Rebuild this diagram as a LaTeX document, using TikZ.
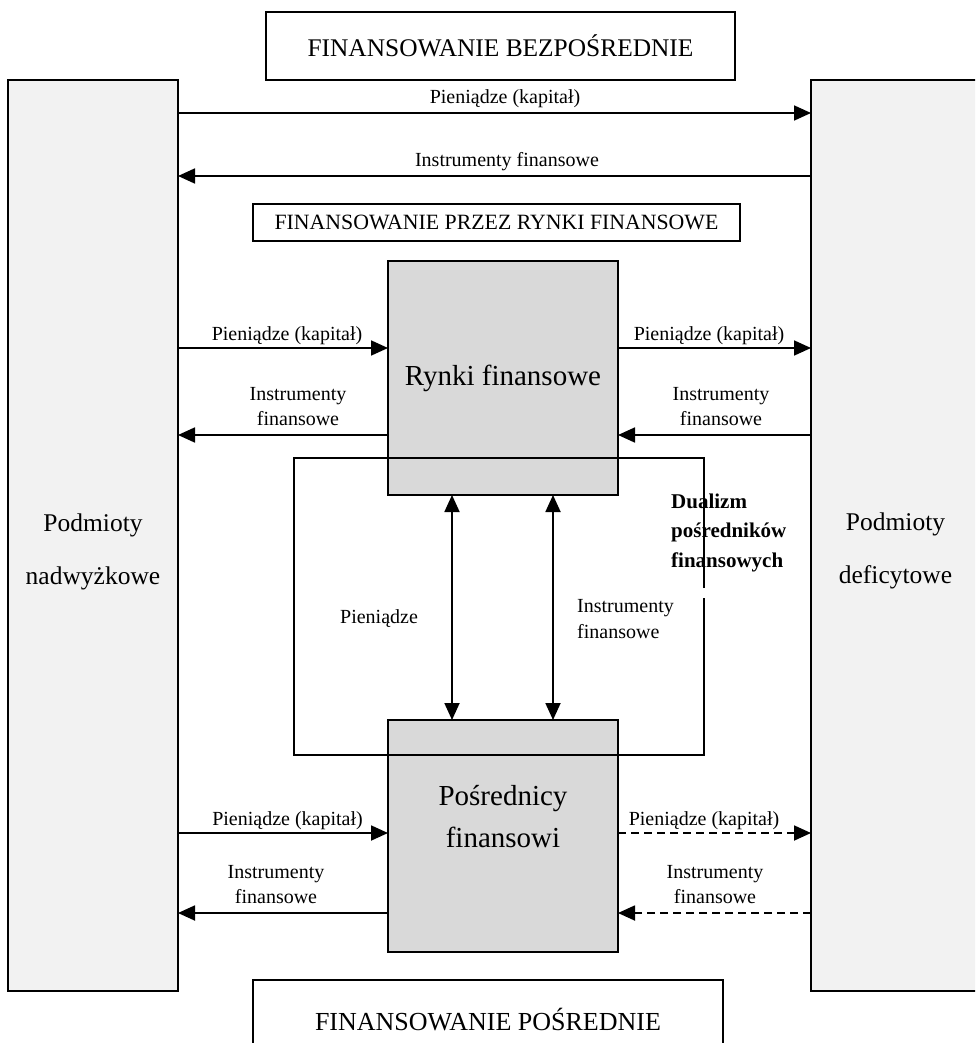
\documentclass[tikz,border=0pt]{standalone}
\usepackage{fontspec}
\setmainfont{Liberation Serif}
\usetikzlibrary{arrows.meta}
\definecolor{lightg}{HTML}{F2F2F2}
\definecolor{midg}{HTML}{D9D9D9}
\begin{document}
\begin{tikzpicture}[x=1pt,y=-1pt,
  box/.style={draw=black, line width=1.2pt, inner sep=0pt, outer sep=0pt},
  arr/.style={line width=1.8pt, -{Triangle[length=17pt,width=15pt]}},
  darr/.style={arr, dash pattern=on 8pt off 5pt},
  dbl/.style={line width=1.8pt, {Triangle[length=17pt,width=15pt]}-{Triangle[length=17pt,width=15pt]}},
  lbl/.style={font=\fontsize{20}{24}\selectfont, anchor=base, inner sep=0pt},
  big/.style={font=\fontsize{25.5}{30}\selectfont, anchor=base, inner sep=0pt},
  mid/.style={font=\fontsize{29}{34}\selectfont, anchor=base, inner sep=0pt},
  bld/.style={font=\bfseries\fontsize{21}{25}\selectfont, anchor=base west, inner sep=0pt}]
\useasboundingbox (0,0) rectangle (975,1043);
\clip (0,0) rectangle (975,1043);
\fill[white] (0,0) rectangle (975,1043);

% side boxes
\node[box, fill=lightg, minimum width=170pt, minimum height=911pt] (lbox) at (93,535.5) {};
\node[box, fill=lightg, minimum width=184pt, minimum height=911pt] (rbox) at (903,535.5) {};

% headings
\node[box, minimum width=469pt, minimum height=68pt, font=\fontsize{25.4}{30}\selectfont] (hdir) at (500.5,46) {FINANSOWANIE BEZPOŚREDNIE};
\node[box, minimum width=487pt, minimum height=37pt, font=\fontsize{21.8}{26}\selectfont] (hmar) at (496.5,222.5) {FINANSOWANIE PRZEZ RYNKI FINANSOWE};
\node[box, minimum width=470pt, minimum height=80pt, font=\fontsize{26}{30}\selectfont] (hind) at (488,1020) {FINANSOWANIE POŚREDNIE};

% central boxes
\node[box, fill=midg, minimum width=230pt, minimum height=234pt, font=\fontsize{29}{34}\selectfont] (rynki) at (503,378) {Rynki finansowe};
\node[box, fill=midg, minimum width=230pt, minimum height=232pt] (posr) at (503,836) {};
\node[mid] (p1) at (503,805) {Pośrednicy};
\node[mid] (p2) at (503,847) {finansowi};

% side texts
\node[big] (pn1) at (93,531) {Podmioty};
\node[big] (pn2) at (93,584) {nadwyżkowe};
\node[big] (pd1) at (895.5,530) {Podmioty};
\node[big] (pd2) at (895.5,583) {deficytowe};

% direct financing
\draw[arr] (lbox.east |- 0,113) -- (rbox.west |- 0,113);
\draw[arr] (rbox.west |- 0,176) -- (lbox.east |- 0,176);
\node[lbl] (t1) at (505,104) {Pieniądze (kapitał)};
\node[lbl] (t2) at (507,167) {Instrumenty finansowe};

% markets
\draw[arr] (lbox.east |- 0,348) -- (rynki.west |- 0,348);
\draw[arr] (rynki.east |- 0,348) -- (rbox.west |- 0,348);
\draw[arr] (rynki.west |- 0,435) -- (lbox.east |- 0,435);
\draw[arr] (rbox.west |- 0,435) -- (rynki.east |- 0,435);
\node[lbl] (m1) at (287,340) {Pieniądze (kapitał)};
\node[lbl] (m2) at (709,340) {Pieniądze (kapitał)};
\node[lbl] (m3a) at (298,400) {Instrumenty};
\node[lbl] (m3b) at (298,425) {finansowe};
\node[lbl] (m4a) at (721,400) {Instrumenty};
\node[lbl] (m4b) at (721,425) {finansowe};

% intermediaries
\draw[arr] (lbox.east |- 0,833) -- (posr.west |- 0,833);
\draw[darr] (posr.east |- 0,833) -- (rbox.west |- 0,833);
\draw[arr] (posr.west |- 0,913) -- (lbox.east |- 0,913);
\draw[darr] (rbox.west |- 0,913) -- (posr.east |- 0,913);
\node[lbl] (b1) at (287.5,825) {Pieniądze (kapitał)};
\node[lbl] (b2) at (704,825) {Pieniądze (kapitał)};
\node[lbl] (b3a) at (276,878) {Instrumenty};
\node[lbl] (b3b) at (276,903) {finansowe};
\node[lbl] (b4a) at (715,878) {Instrumenty};
\node[lbl] (b4b) at (715,903) {finansowe};

% duality
\draw[dbl] (rynki.south -| 452,0) -- (posr.north -| 452,0);
\draw[dbl] (rynki.south -| 553,0) -- (posr.north -| 553,0);
\node[lbl] (v1) at (379,623) {Pieniądze};
\node[lbl, anchor=base west] (v2a) at (577,612) {Instrumenty};
\node[lbl, anchor=base west] (v2b) at (577,638) {finansowe};
\draw[line width=1.2pt] (704,588) -- (704,458) -- (294,458) -- (294,755) -- (704,755) -- (704,598);
\node[bld] (d1) at (671,508) {Dualizm};
\node[bld] (d2) at (671,537) {pośredników};
\node[bld] (d3) at (671,567) {finansowych};
\end{tikzpicture}
\end{document}
